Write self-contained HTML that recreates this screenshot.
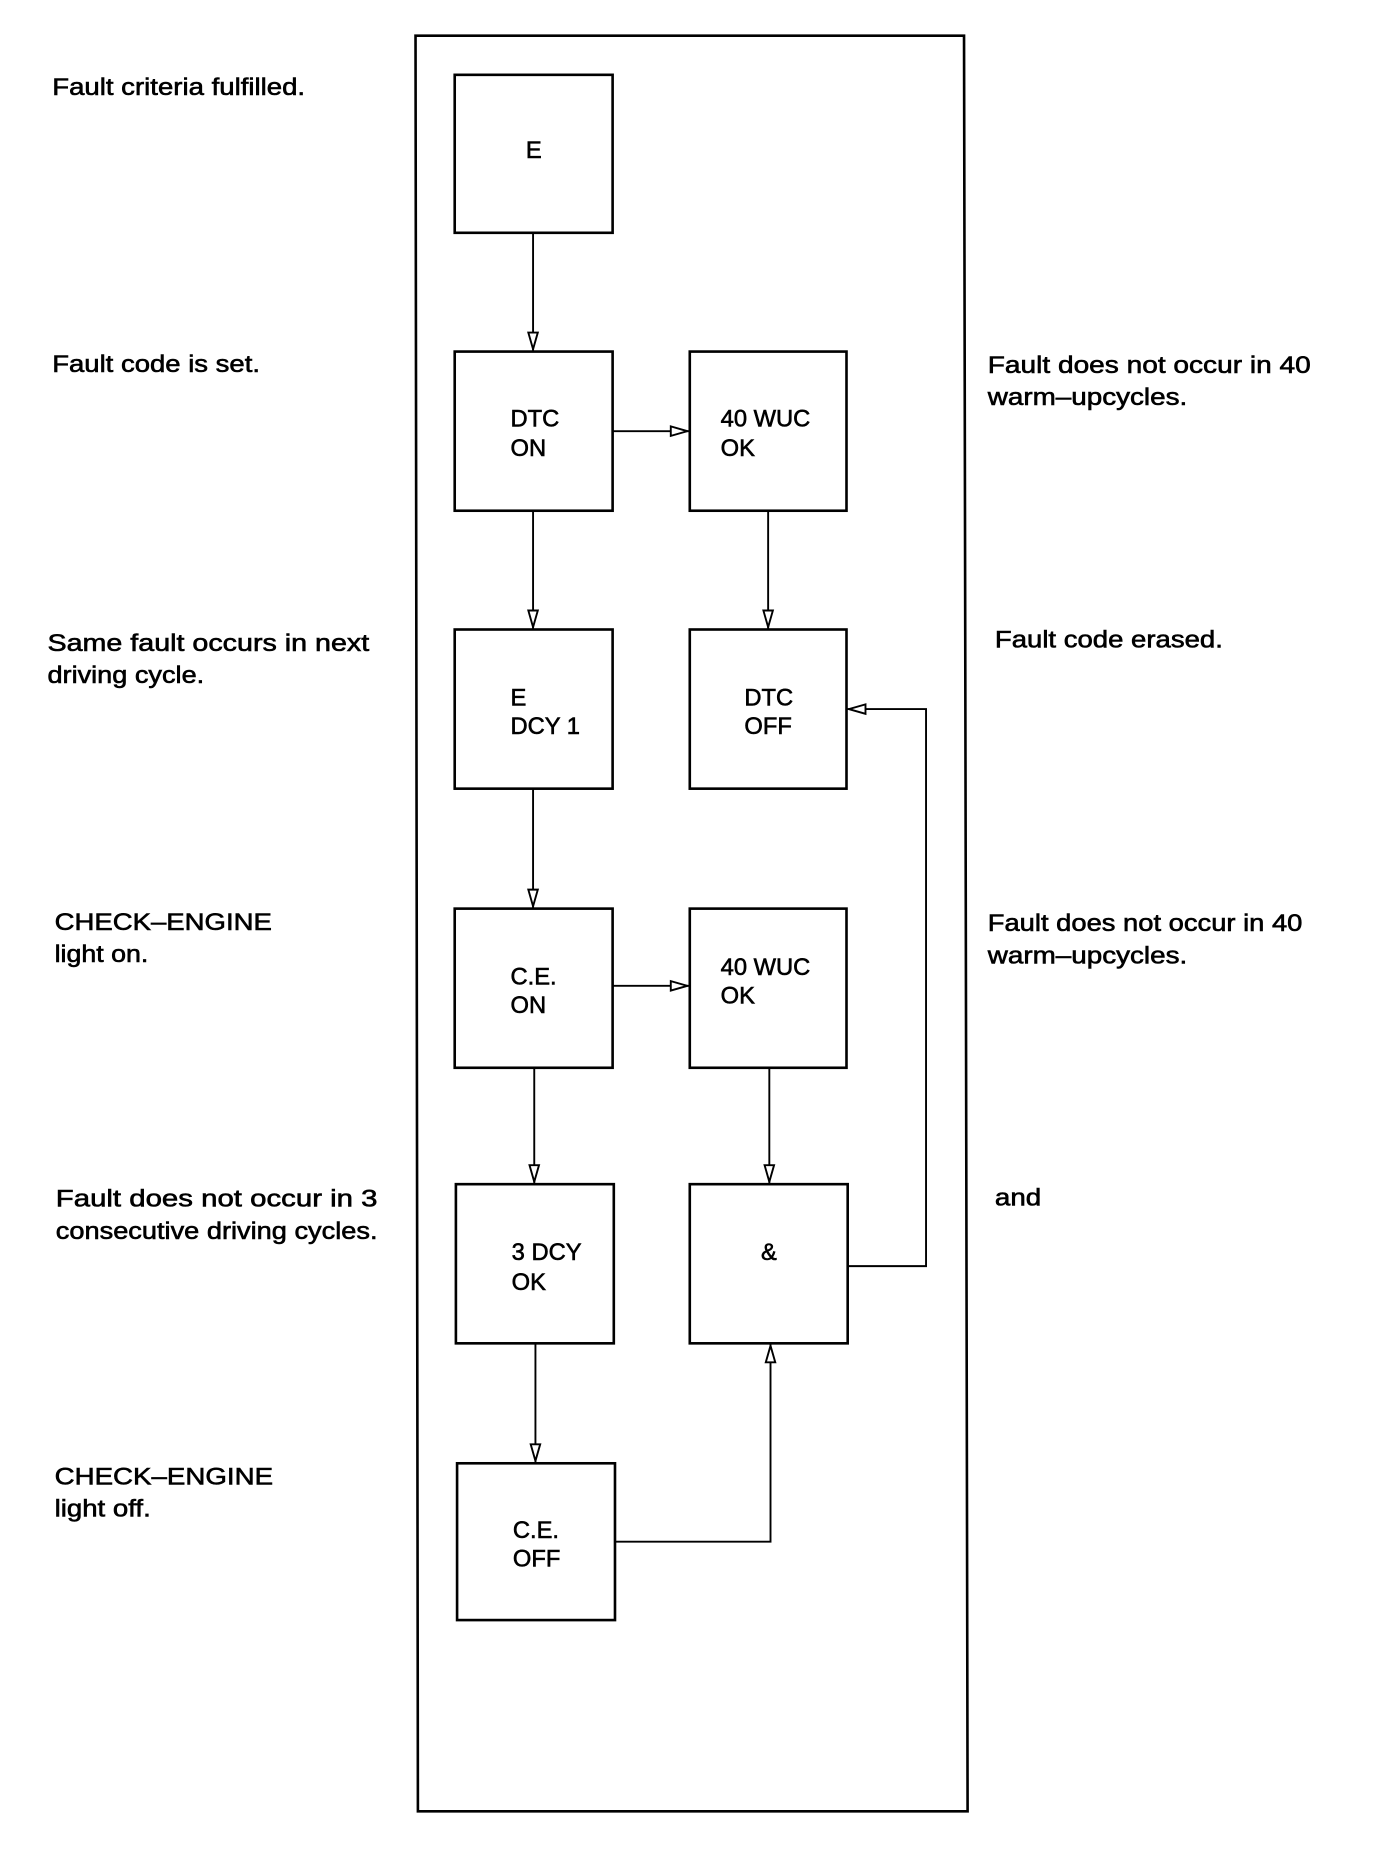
<!DOCTYPE html>
<html><head><meta charset="utf-8"><style>
html,body{margin:0;padding:0;background:#fff;}
svg{display:block;}
text{font-family:"Liberation Sans",Arial,sans-serif;font-size:20px;fill:#000;stroke:#000;stroke-width:0.5;}
.b{fill:none;stroke:#000;stroke-width:2.2;}
.l{fill:none;stroke:#000;stroke-width:1.6;}
.a{fill:#fff;stroke:#000;stroke-width:1.6;}
</style></head><body>
<svg width="1376" height="1860" viewBox="0 0 1159 1566" preserveAspectRatio="none" xmlns="http://www.w3.org/2000/svg">
<!-- frame -->
<path class="b" d="M350 30 L812 30 L815 1525 L352 1525 Z"/>
<!-- boxes -->
<rect class="b" x="383" y="63" width="133" height="133"/>
<rect class="b" x="383" y="296" width="133" height="134"/>
<rect class="b" x="581" y="296" width="132" height="134"/>
<rect class="b" x="383" y="530" width="133" height="134"/>
<rect class="b" x="581" y="530" width="132" height="134"/>
<rect class="b" x="383" y="765" width="133" height="134"/>
<rect class="b" x="581" y="765" width="132" height="134"/>
<rect class="b" x="384" y="997" width="133" height="134"/>
<rect class="b" x="581" y="997" width="133" height="134"/>
<rect class="b" x="385" y="1232" width="133" height="132"/>
<!-- connectors -->
<path class="l" d="M449 196 V296 M449 430 V530 M449 664 V765 M450 899 V997 M451 1131 V1232 M647 430 V530 M648 899 V997 M516 363 H581 M516 830 H581 M714 1066 H780 V597 H713 M518 1298 H649 V1131"/>
<!-- arrowheads -->
<path class="a" d="M445 280 L453 280 L449 294 Z"/>
<path class="a" d="M445 514 L453 514 L449 528 Z"/>
<path class="a" d="M445 749 L453 749 L449 763 Z"/>
<path class="a" d="M446 981 L454 981 L450 995 Z"/>
<path class="a" d="M447 1216 L455 1216 L451 1230 Z"/>
<path class="a" d="M643 514 L651 514 L647 528 Z"/>
<path class="a" d="M644 981 L652 981 L648 995 Z"/>
<path class="a" d="M565 359 L565 367 L579 363 Z"/>
<path class="a" d="M565 826 L565 834 L579 830 Z"/>
<path class="a" d="M729 593 L729 601 L715 597 Z"/>
<path class="a" d="M645 1147 L653 1147 L649 1133 Z"/>
<!-- box text -->
<text x="443" y="133">E</text>
<text x="430" y="359">DTC</text><text x="430" y="384">ON</text>
<text x="607" y="359">40 WUC</text><text x="607" y="384">OK</text>
<text x="430" y="594">E</text><text x="430" y="618">DCY 1</text>
<text x="627" y="594">DTC</text><text x="627" y="618">OFF</text>
<text x="430" y="829">C.E.</text><text x="430" y="853">ON</text>
<text x="607" y="821">40 WUC</text><text x="607" y="845">OK</text>
<text x="431" y="1061">3 DCY</text><text x="431" y="1086">OK</text>
<text x="641" y="1061">&amp;</text>
<text x="432" y="1295">C.E.</text><text x="432" y="1319">OFF</text>
<!-- left labels -->
<text x="44" y="80" textLength="213" lengthAdjust="spacingAndGlyphs">Fault criteria fulfilled.</text>
<text x="44" y="313" textLength="175" lengthAdjust="spacingAndGlyphs">Fault code is set.</text>
<text x="40" y="548" textLength="271" lengthAdjust="spacingAndGlyphs">Same fault occurs in next</text>
<text x="40" y="575" textLength="132" lengthAdjust="spacingAndGlyphs">driving cycle.</text>
<text x="46" y="783" textLength="183" lengthAdjust="spacingAndGlyphs">CHECK–ENGINE</text>
<text x="46" y="810" textLength="79" lengthAdjust="spacingAndGlyphs">light on.</text>
<text x="47" y="1016" textLength="271" lengthAdjust="spacingAndGlyphs">Fault does not occur in 3</text>
<text x="47" y="1043" textLength="271" lengthAdjust="spacingAndGlyphs">consecutive driving cycles.</text>
<text x="46" y="1250" textLength="184" lengthAdjust="spacingAndGlyphs">CHECK–ENGINE</text>
<text x="46" y="1277" textLength="81" lengthAdjust="spacingAndGlyphs">light off.</text>
<!-- right labels -->
<text x="832" y="314" textLength="272" lengthAdjust="spacingAndGlyphs">Fault does not occur in 40</text>
<text x="832" y="341" textLength="168" lengthAdjust="spacingAndGlyphs">warm–upcycles.</text>
<text x="838" y="545" textLength="192" lengthAdjust="spacingAndGlyphs">Fault code erased.</text>
<text x="832" y="784" textLength="265" lengthAdjust="spacingAndGlyphs">Fault does not occur in 40</text>
<text x="832" y="811" textLength="168" lengthAdjust="spacingAndGlyphs">warm–upcycles.</text>
<text x="838" y="1015" textLength="39" lengthAdjust="spacingAndGlyphs">and</text>
</svg>
</body></html>
